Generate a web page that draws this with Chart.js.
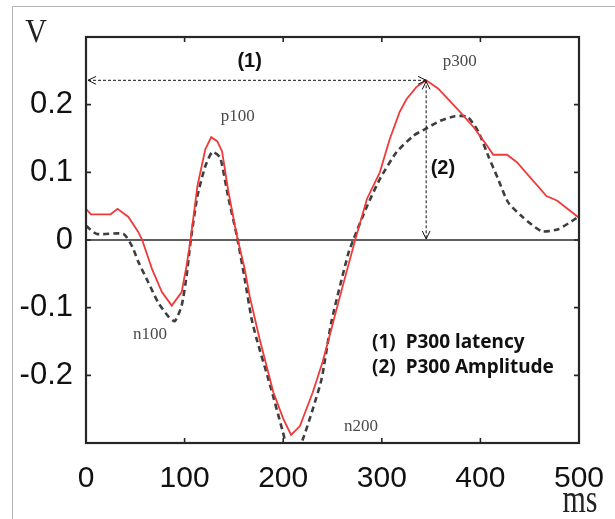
<!DOCTYPE html>
<html>
<head>
<meta charset="utf-8">
<script src="https://cdn.jsdelivr.net/npm/chart.js@4"></script>
<style>
  html, body { margin: 0; padding: 0; background: #fff; overflow: hidden; }
  #wrap { position: relative; width: 615px; height: 519px; }
  #frame { position: absolute; left: 12px; top: 6px; width: 700px; height: 600px;
           border-left: 1px solid #b4b4b4; border-top: 1px solid #b4b4b4; }
  canvas { position: absolute; left: 0; top: 0; }
</style>
</head>
<body>
<div id="wrap"><div id="frame"></div><canvas id="c" width="615" height="519"></canvas></div>
<script>
// ---- data ----
const redMs = [0, 5, 25, 32, 43, 53, 57, 67, 77, 87, 97, 102, 106, 113, 121, 127, 133, 138, 144, 151, 154, 161, 166, 176, 190, 200, 208, 217, 230, 240, 247, 260, 273, 285, 298, 308, 318, 325, 335, 345, 357, 377, 393, 407, 413, 427, 437, 467, 478, 499, 500];
const redV = [0.046, 0.038, 0.038, 0.046, 0.034, 0.012, 0, -0.043, -0.077, -0.097, -0.077, -0.038, 0, 0.08, 0.134, 0.152, 0.146, 0.131, 0.075, 0.021, 0, -0.043, -0.083, -0.146, -0.225, -0.264, -0.288, -0.275, -0.225, -0.18, -0.142, -0.07, 0, 0.061, 0.10, 0.149, 0.189, 0.208, 0.226, 0.236, 0.224, 0.193, 0.167, 0.139, 0.126, 0.126, 0.115, 0.065, 0.058, 0.034, 0.034];
const grayMs = [0, 11, 38, 47, 53, 63, 73, 83, 90, 97, 102, 106, 113, 121, 128, 136, 144, 153, 161, 168, 173, 187, 199, 205, 212, 220, 230, 239, 249, 266, 271, 285, 298, 315, 332, 344, 359, 374, 387, 398, 408, 418, 428, 442, 462, 479, 496, 500];
const grayV = [0.021, 0.009, 0.009, -0.01, -0.032, -0.062, -0.092, -0.112, -0.12, -0.097, -0.053, -0.003, 0.065, 0.109, 0.13, 0.122, 0.065, 0.006, -0.058, -0.117, -0.146, -0.216, -0.28, -0.31, -0.315, -0.294, -0.25, -0.205, -0.12, -0.02, 0, 0.05, 0.09, 0.13, 0.154, 0.164, 0.176, 0.183, 0.182, 0.16, 0.124, 0.09, 0.056, 0.035, 0.013, 0.016, 0.031, 0.036];
const xTickValues = [0, 100, 200, 300, 400, 500];
const yTickValues = [-0.3, -0.2, -0.1, 0, 0.1, 0.2, 0.3];
const yTickLabels = ['', '-0.2', '-0.1', '0', '0.1', '0.2', ''];
const p300Latency = 345;   // ms
const p300Amplitude = 0.236; // V
const peakLabels = [
  { text: 'p100', ms: 154, v: 0.182 },
  { text: 'p300', ms: 379, v: 0.264 },
  { text: 'n100', ms: 65, v: -0.140 },
  { text: 'n200', ms: 279, v: -0.275 }
];
const markLabels = [
  { text: '(1)', ms: 166, v: 0.264 },
  { text: '(2)', ms: 362, v: 0.106 }
];
const legendLines = ['(1)  P300 latency', '(2)  P300 Amplitude'];
const yAxisTitle = 'V';
const xAxisTitle = 'ms';

const toPts = (xs, ys) => xs.map((x, i) => ({ x: x, y: ys[i] }));

function arrowHead(ctx, x, y, ang) {
  const L = 9, a = 0.45;
  ctx.beginPath();
  ctx.moveTo(x - L * Math.cos(ang - a), y - L * Math.sin(ang - a));
  ctx.lineTo(x, y);
  ctx.lineTo(x - L * Math.cos(ang + a), y - L * Math.sin(ang + a));
  ctx.stroke();
}

const decor = {
  id: 'decor',
  beforeDatasetsDraw(chart) {
    const ctx = chart.ctx;
    const ys = chart.scales.y;
    const { left, right } = chart.chartArea;
    const y0 = ys.getPixelForValue(0);
    ctx.save();
    ctx.strokeStyle = '#2a2a2a';
    ctx.lineWidth = 1.3;
    ctx.beginPath(); ctx.moveTo(left, y0); ctx.lineTo(right, y0); ctx.stroke();
    ctx.restore();
  },
  afterDatasetsDraw(chart) {
    const ctx = chart.ctx;
    const xs = chart.scales.x, ys = chart.scales.y;
    const { left, right, top, bottom } = chart.chartArea;
    ctx.save();
    // box
    ctx.strokeStyle = '#262626';
    ctx.lineWidth = 2.2;
    ctx.strokeRect(left, top, right - left, bottom - top);
    // inner ticks
    ctx.lineWidth = 1.6;
    xTickValues.forEach(v => {
      const px = xs.getPixelForValue(v);
      ctx.beginPath();
      ctx.moveTo(px, bottom); ctx.lineTo(px, bottom - 5);
      ctx.moveTo(px, top); ctx.lineTo(px, top + 5);
      ctx.stroke();
    });
    yTickValues.forEach(v => {
      const py = ys.getPixelForValue(v);
      ctx.beginPath();
      ctx.moveTo(left, py); ctx.lineTo(left + 5, py);
      ctx.moveTo(right, py); ctx.lineTo(right - 5, py);
      ctx.stroke();
    });
    // arrows
    const px = xs.getPixelForValue(p300Latency);
    const py = ys.getPixelForValue(p300Amplitude);
    const pz = ys.getPixelForValue(0);
    const x0 = xs.getPixelForValue(0) + 2;
    ctx.strokeStyle = '#111';
    ctx.lineWidth = 1;
    ctx.setLineDash([3, 2]);
    ctx.beginPath(); ctx.moveTo(x0, py); ctx.lineTo(px, py); ctx.stroke();
    ctx.beginPath(); ctx.moveTo(px, py); ctx.lineTo(px, pz - 1); ctx.stroke();
    ctx.setLineDash([]);
    arrowHead(ctx, x0, py, Math.PI);
    arrowHead(ctx, px, py, 0);
    arrowHead(ctx, px, py + 1, -Math.PI / 2);
    arrowHead(ctx, px, pz - 1, Math.PI / 2);
    // mark labels
    ctx.fillStyle = '#111';
    ctx.textAlign = 'center';
    ctx.textBaseline = 'middle';
    ctx.font = 'bold 20px "Liberation Sans", Arial, sans-serif';
    markLabels.forEach(l => ctx.fillText(l.text, xs.getPixelForValue(l.ms), ys.getPixelForValue(l.v)));
    // peak labels (serif)
    ctx.fillStyle = '#4a4a4a';
    ctx.font = '17px "Liberation Serif", "Times New Roman", serif';
    peakLabels.forEach(l => ctx.fillText(l.text, xs.getPixelForValue(l.ms), ys.getPixelForValue(l.v)));
    // legend text
    ctx.fillStyle = '#111';
    ctx.textAlign = 'left';
    ctx.font = 'bold 19px "Noto Sans", "Liberation Sans", sans-serif';
    ctx.fillText(legendLines[0], 372, 343);
    ctx.fillText(legendLines[1], 372, 368);
    // axis titles
    ctx.fillStyle = '#222';
    ctx.textAlign = 'center';
    ctx.font = '30px "Liberation Serif", "Times New Roman", serif';
    ctx.save(); ctx.translate(36, 33); ctx.scale(1, 1.1); ctx.fillText(yAxisTitle, 0, 0); ctx.restore();
    ctx.save(); ctx.translate(580, 501); ctx.scale(1, 1.35); ctx.fillText(xAxisTitle, 0, 0); ctx.restore();
    ctx.restore();
  }
};

new Chart(document.getElementById('c'), {
  type: 'line',
  data: {
    datasets: [
      {
        data: toPts(redMs, redV),
        borderColor: '#f03a3a',
        borderWidth: 1.8,
        pointRadius: 0,
        tension: 0,
        fill: false
      },
      {
        data: toPts(grayMs, grayV),
        borderColor: '#3e3e3e',
        borderWidth: 2.6,
        borderDash: [6, 4],
        pointRadius: 0,
        tension: 0.2,
        fill: false
      }
    ]
  },
  options: {
    responsive: false,
    animation: false,
    devicePixelRatio: 1,
    layout: { padding: { left: 0, top: 37, right: 36, bottom: 0 } },
    plugins: { legend: { display: false }, tooltip: { enabled: false } },
    scales: {
      x: {
        type: 'linear', min: 0, max: 500,
        afterBuildTicks: s => { s.ticks = xTickValues.map(v => ({ value: v })); },
        ticks: {
          color: '#111', padding: 10, maxRotation: 0, autoSkip: false,
          font: { family: '"Liberation Sans", Arial, sans-serif', size: 30 },
          callback: v => String(v)
        },
        grid: { display: true, drawOnChartArea: false, drawTicks: true, tickLength: 8, tickColor: 'rgba(0,0,0,0)' },
        border: { display: false },
        afterFit: s => { s.height = 76; }
      },
      y: {
        type: 'linear', min: -0.3, max: 0.3,
        afterBuildTicks: s => { s.ticks = yTickValues.map(v => ({ value: v })); },
        ticks: {
          color: '#111', padding: 13, autoSkip: false,
          font: { family: '"Liberation Sans", Arial, sans-serif', size: 31 },
          callback: (v, i) => yTickLabels[i]
        },
        grid: { display: false, drawTicks: false },
        border: { display: false },
        afterFit: s => { s.width = 86; }
      }
    }
  },
  plugins: [decor]
});
</script>
</body>
</html>
